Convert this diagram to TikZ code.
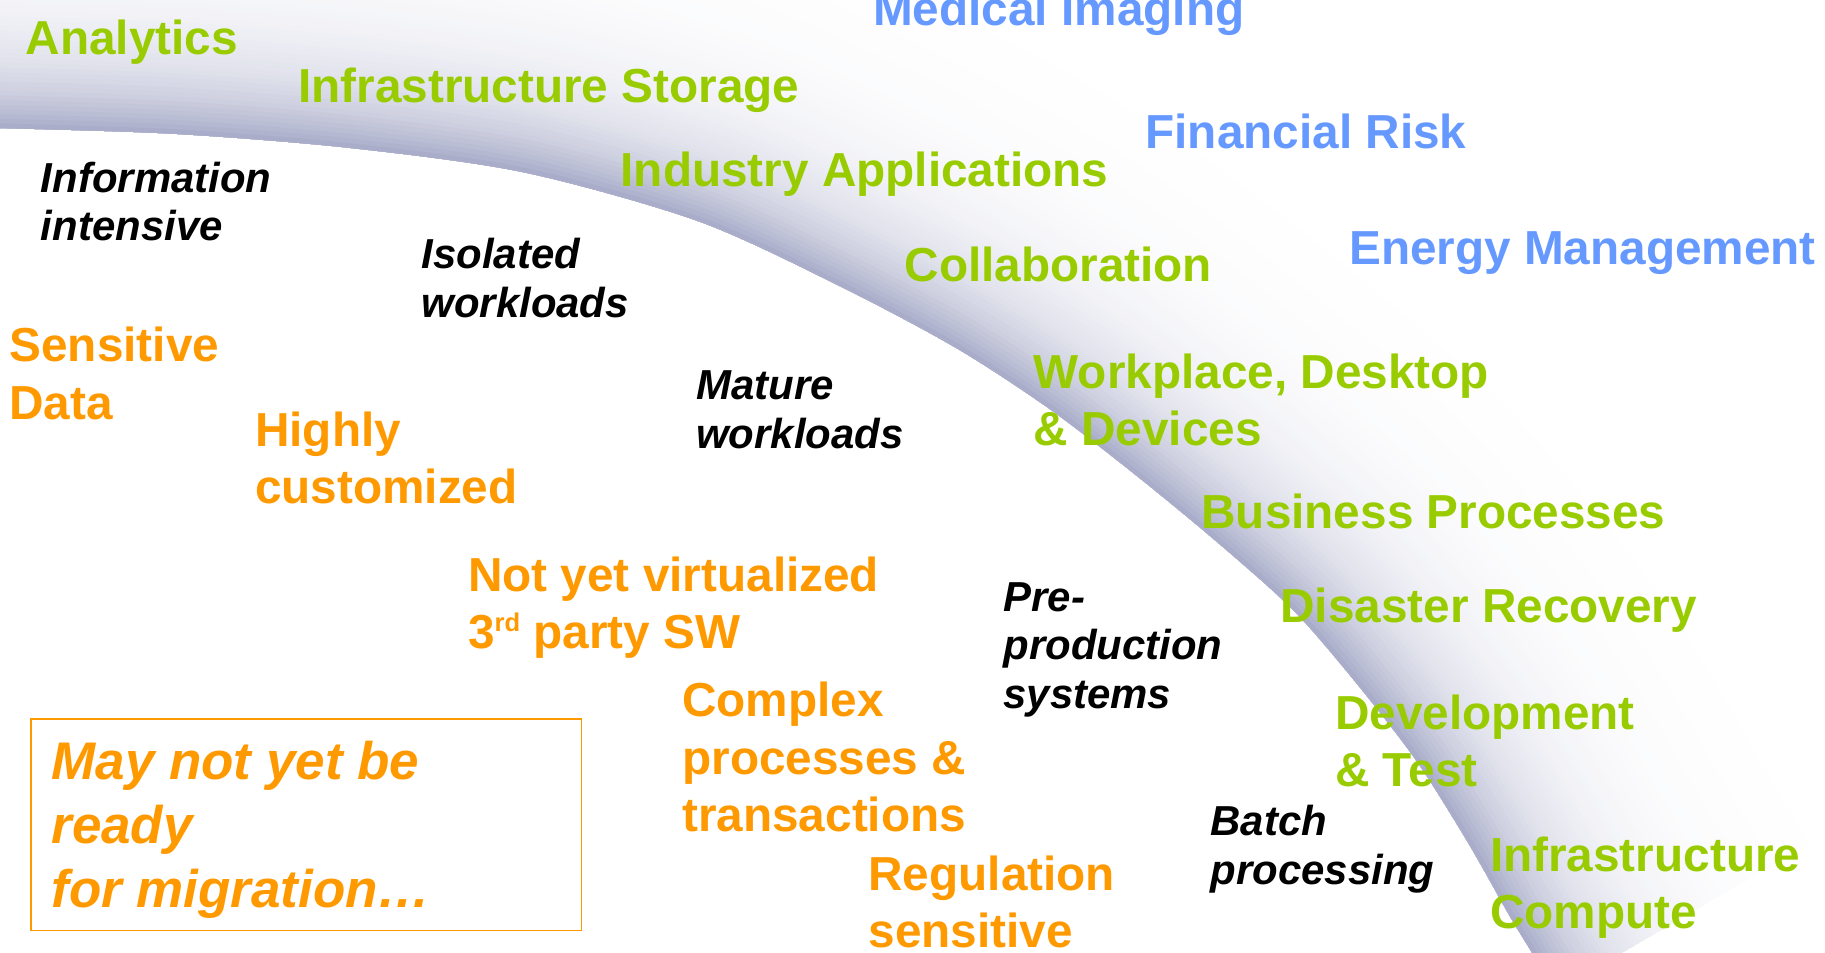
\documentclass[tikz,border=0pt]{standalone}
\usepackage{fontspec}
\setmainfont{Liberation Sans}
\definecolor{appgreen}{HTML}{99CC00}
\definecolor{appblue}{HTML}{6699FF}
\definecolor{apporange}{HTML}{FF9900}
\definecolor{bandc}{HTML}{A6AAC7}
\begin{document}
\begin{tikzpicture}[x=1pt,y=-1pt,
  lbl/.style={anchor=base west, inner sep=0pt, align=left, font=\fontsize{41}{49}\selectfont\bfseries},
  grn/.style={lbl, text=appgreen},
  blu/.style={lbl, text=appblue},
  org/.style={lbl, text=apporange},
  wl/.style={anchor=base west, inner sep=0pt, align=left, font=\fontsize{36}{42}\selectfont\bfseries\itshape, text=black},
  boxtxt/.style={anchor=base west, inner sep=0pt, align=left, font=\fontsize{45.5}{55}\selectfont\bfseries\itshape, text=apporange}]
\useasboundingbox (0,0) rectangle (1568,818);
\fill[white] (0,0) rectangle (1568,818);
% curved fading band
\begin{scope}
\clip plot[smooth] coordinates {(-40,109) (0,110) (150,115) (300,127) (450,148) (600,190) (720,245) (820,298) (900,350) (972,405) (1045,465) (1112,525) (1168,590) (1218,655) (1262,725) (1296,785) (1316,818) (1336,852)} -- (1600,852) -- (1600,-40) -- (-40,-40) -- cycle;
\path[save path=\edgepath] plot[smooth] coordinates {(-40,109) (0,110) (150,115) (300,127) (450,148) (600,190) (720,245) (820,298) (900,350) (972,405) (1045,465) (1112,525) (1168,590) (1218,655) (1262,725) (1296,785) (1316,818) (1336,852)};
\foreach \i in {0,...,64} {
  \pgfmathsetmacro\d{260-4*\i}
  \pgfmathsetmacro\w{2*\d}
  \pgfmathtruncatemacro\p{100*exp(-(\d-2)/55)}
  \draw[use path=\edgepath, line width=\w pt, line join=round, draw=bandc!\p!white];
}
\end{scope}
% labels (anchor = baseline of the last line)
\node[blu] (med) at (750,22) {Medical Imaging};
\node[grn] (ana) at (22,47) {Analytics};
\node[grn] (infs) at (256,88) {Infrastructure Storage};
\node[blu] (fin) at (984,128) {Financial Risk};
\node[wl] (info) at (35,207) {Information\\intensive};
\node[grn] (ind) at (533,160) {Industry Applications};
\node[wl] (iso) at (362,273) {Isolated\\workloads};
\node[grn] (col) at (777,242) {Collaboration};
\node[blu] (ene) at (1159,227) {Energy Management};
\node[org] (sen) at (8,360) {Sensitive\\Data};
\node[wl] (mat) at (598,385) {Mature\\workloads};
\node[grn] (work) at (888,383) {Workplace, Desktop\\\& Devices};
\node[org] (hig) at (219,433) {Highly\\customized};
\node[grn] (bus) at (1032,454) {Business Processes};
\node[org] (not) at (402,557) {Not yet virtualized\\3\raisebox{0.36em}{\fontsize{22}{22}\selectfont rd} party SW};
\node[wl] (pre) at (862,609) {Pre-\\production\\systems};
\node[grn] (dis) at (1100,535) {Disaster Recovery};
\node[org] (com) at (586,714) {Complex\\processes \&\\transactions};
\node[grn] (dev) at (1147,676) {Development\\\& Test};
\node (box) [draw=apporange, line width=1.3pt, minimum width=473pt, minimum height=182pt, anchor=north west, inner sep=0pt] at (26,617) {};
\node[boxtxt] (may) at (44,780) {May not yet be\\ready\\for migration…};
\node[wl] (bat) at (1040,760) {Batch\\processing};
\node[org] (reg) at (746,814) {Regulation\\sensitive};
\node[grn] (infc) at (1280,798) {Infrastructure\\Compute};
\end{tikzpicture}
\end{document}
